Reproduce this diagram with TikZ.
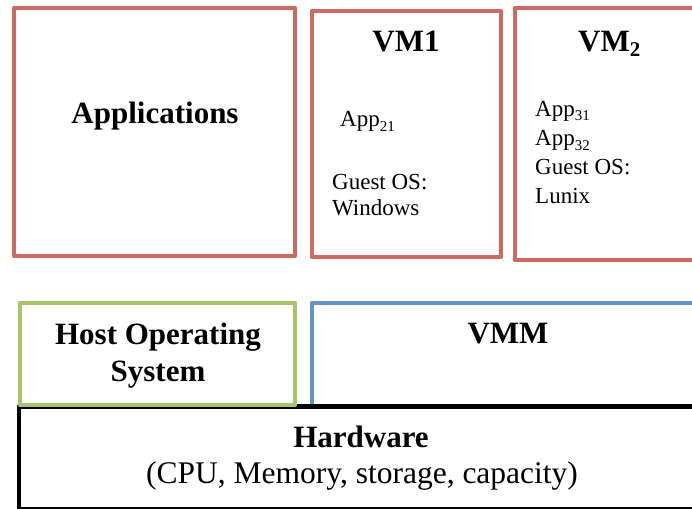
\documentclass[tikz,border=0pt]{standalone}
\usepackage{fontspec}
\setmainfont{Liberation Serif}
\definecolor{boxred}{RGB}{206,104,98}
\definecolor{boxgreen}{RGB}{166,196,104}
\definecolor{boxblue}{RGB}{98,148,204}
\newcommand{\sub}[1]{\raisebox{-5pt}{\fontsize{15}{15}\selectfont #1}}
\begin{document}
\begin{tikzpicture}[x=1pt,y=-1pt,
  layer/.style={line width=4.5pt, line join=round, fill=white},
  title/.style={font=\fontsize{31}{31}\selectfont\bfseries, anchor=base, inner sep=0pt},
  body/.style={font=\fontsize{31.5}{31.5}\selectfont, anchor=base, inner sep=0pt},
  small/.style={font=\fontsize{23}{23}\selectfont, anchor=base west, inner sep=0pt}]
\useasboundingbox (0,0) rectangle (692,508);
\clip (0,0) rectangle (692,508);
\fill[white] (0,0) rectangle (692,508);

% upper row: native applications and the two virtual machines
\draw[layer, draw=boxred] (14,8) rectangle (295,256);
\draw[layer, draw=boxred] (312,11) rectangle (501,257);
\draw[layer, draw=boxred] (515,8) rectangle (720,260);

% lower row: VMM and hardware, host OS drawn last
\draw[layer, draw=boxblue] (312,303) rectangle (720,406);
\draw[layer, draw=black] (19,406.5) rectangle (720,509.5);
\draw[layer, draw=boxgreen] (20,303) rectangle (295,405);

\node[title] (apps) at (155,123) {Applications};

\node[title] (vm1) at (406,52) {VM1};
\node[small] (app21) at (340,126) {App\sub{21}};
\node[small] (guest1) at (332,189) {Guest OS:};
\node[small] (win) at (332,215) {Windows};

\node[title, anchor=base west] (vm2) at (578,52) {VM\raisebox{-5pt}{\fontsize{21}{21}\selectfont\bfseries 2}};
\node[small] (app31) at (535,116) {App\sub{31}};
\node[small] (app32) at (535,145) {App\sub{32}};
\node[small] (guest2) at (535,174) {Guest OS:};
\node[small] (lunix) at (535,203) {Lunix};

\node[title] (host1) at (158,344) {Host Operating};
\node[title] (host2) at (158,381) {System};

\node[title] (vmm) at (508,343) {VMM};

\node[title] (hw) at (361,447) {Hardware};
\node[body] (hwlist) at (362,483) {(CPU, Memory, storage, capacity)};
\end{tikzpicture}
\end{document}
